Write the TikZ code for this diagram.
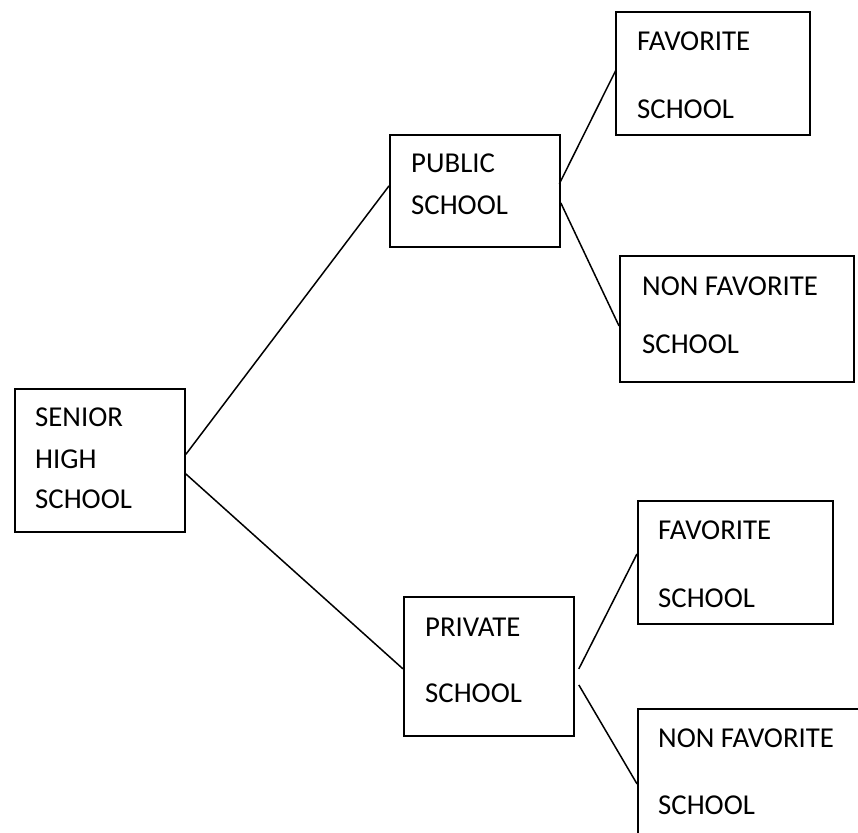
\documentclass[tikz,border=0pt]{standalone}
\usepackage{fontspec}
\setmainfont{Carlito}
\begin{document}
\begin{tikzpicture}[x=1pt,y=-1pt,
  box/.style={draw,line width=1.8pt,rectangle,inner sep=0pt,anchor=north west},
  lbl/.style={anchor=base west,inner sep=0pt,font=\fontsize{28.8}{34}\selectfont},
  link/.style={line width=1.5pt}]
\useasboundingbox (0,0) rectangle (858,832);
\clip (0,0) rectangle (858,832);
% boxes
\node[box,minimum width=170pt,minimum height=143pt] (shs) at (14,388) {};
\node[box,minimum width=170pt,minimum height=112pt] (pub) at (389,134) {};
\node[box,minimum width=194pt,minimum height=123pt] (fav1) at (615,11) {};
\node[box,minimum width=234pt,minimum height=126pt] (nf1) at (619,255) {};
\node[box,minimum width=170pt,minimum height=139pt] (priv) at (403,596) {};
\node[box,minimum width=195pt,minimum height=123pt] (fav2) at (637,500) {};
\node[box,minimum width=260pt,minimum height=160pt] (nf2) at (637,708) {};
% labels
\node[lbl] (t1) at (35,426) {SENIOR};
\node[lbl] (t2) at (35,468) {HIGH};
\node[lbl] (t3) at (35,508) {SCHOOL};
\node[lbl] (t4) at (411,172) {PUBLIC};
\node[lbl] (t5) at (411,214) {SCHOOL};
\node[lbl] (t6) at (637,51) {FAVORITE};
\node[lbl] (t7) at (637,118) {SCHOOL};
\node[lbl] (t8) at (642,295) {NON FAVORITE};
\node[lbl] (t9) at (642,353) {SCHOOL};
\node[lbl] (t10) at (425,636) {PRIVATE};
\node[lbl] (t11) at (425,702) {SCHOOL};
\node[lbl] (t12) at (658,539) {FAVORITE};
\node[lbl] (t13) at (658,607) {SCHOOL};
\node[lbl] (t14) at (658,747) {NON FAVORITE};
\node[lbl] (t15) at (658,814) {SCHOOL};
% connectors
\draw[link] ([yshift=6pt]shs.east) -- ([yshift=5pt]pub.west);
\draw[link] ([yshift=-13.5pt]shs.east) -- ([yshift=-2.5pt]priv.west);
\draw[link] ([xshift=-1.5pt,yshift=7pt]pub.east) -- ([xshift=1pt,yshift=3.5pt]fav1.west);
\draw[link] ([yshift=-12pt]pub.east) -- ([yshift=-7pt]nf1.west);
\draw[link] ([xshift=4pt,yshift=-2.5pt]priv.east) -- ([yshift=8.5pt]fav2.west);
\draw[link] ([xshift=4pt,yshift=-18.5pt]priv.east) -- ([yshift=5pt]nf2.west);
\end{tikzpicture}
\end{document}
